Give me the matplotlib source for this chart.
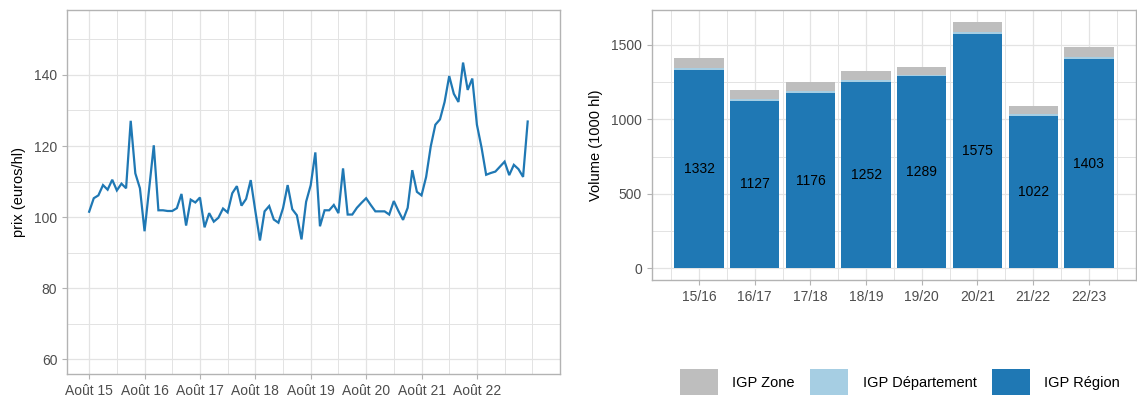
import matplotlib
matplotlib.use("Agg")
import matplotlib.pyplot as plt
import numpy as np
from matplotlib.patches import Patch

plt.rcParams['font.family'] = ['Liberation Sans', 'DejaVu Sans']

# ---- data: left chart (monthly price, Aug 2015 -> Jul 2023) ----
prix = [101.5, 105.3, 106.1, 109.0, 107.7, 110.5, 107.5, 109.4, 108.1, 127.1, 112.3, 108.1,
        96.0, 108.0, 120.2, 101.9, 101.9, 101.7, 101.7, 102.5, 106.5, 97.6, 104.9, 104.1,
        105.5, 97.1, 101.1, 98.7, 99.8, 102.4, 101.3, 106.7, 108.7, 103.2, 105.1, 110.4,
        101.7, 93.4, 101.6, 103.1, 99.3, 98.4, 102.5, 109.0, 102.2, 100.5, 93.7, 104.3,
        109.0, 118.2, 97.4, 101.9, 101.9, 103.4, 101.1, 113.7, 100.7, 100.7, 102.6, 104.0,
        105.3, 103.4, 101.6, 101.6, 101.6, 100.7, 104.5, 101.7, 99.2, 102.6, 113.2, 107.1,
        106.1, 111.3, 119.9, 126.0, 127.5, 132.4, 139.7, 134.7, 132.4, 143.5, 135.8, 139.0,
        126.0, 119.6, 111.9, 112.4, 112.8, 114.2, 115.6, 111.8, 114.7, 113.5, 111.3, 126.9]
year_labels = ["Août 15", "Août 16", "Août 17", "Août 18", "Août 19", "Août 20", "Août 21", "Août 22"]

# ---- data: right chart (volumes, 1000 hl) ----
campagnes = ["15/16", "16/17", "17/18", "18/19", "19/20", "20/21", "21/22", "22/23"]
igp_region = [1332, 1127, 1176, 1252, 1289, 1575, 1022, 1403]
igp_departement = [15, 13, 14, 13, 12, 14, 12, 17]
igp_zone = [68, 58, 61, 60, 49, 63, 58, 64]

C_LINE = "#1F78B4"
C_REG = "#1F78B4"
C_DEP = "#A6CEE3"
C_ZONE = "#BEBEBE"
GRID = "#E3E3E3"
BORDER = "#B3B3B3"
TICKC = "#4D4D4D"

fig = plt.figure(figsize=(11.37, 4.04), dpi=100)


def style(ax):
    for s in ax.spines.values():
        s.set_color(BORDER)
        s.set_linewidth(1.0)
    ax.tick_params(colors=BORDER, labelcolor=TICKC, labelsize=10, length=3.5, width=0.8)
    ax.set_axisbelow(True)


# ---------------- left chart ----------------
ax1 = fig.add_axes([67 / 1137, 1 - 374 / 404, 493 / 1137, 364 / 404])
style(ax1)
x = np.arange(len(prix))
ax1.plot(x, prix, color=C_LINE, lw=1.6, solid_joinstyle='miter')
ax1.set_xlim(-4.8, 99.7)
ax1.set_ylim(55.8, 158.3)
ax1.set_yticks([60, 80, 100, 120, 140])
ax1.set_yticks([70, 90, 110, 130, 150], minor=True)
ax1.set_xticks(np.arange(len(year_labels)) * 12)
ax1.set_xticklabels(year_labels)
ax1.set_xticks(list(np.arange(0, 97, 12) + 6) + [96], minor=True)
ax1.tick_params(which='minor', length=0)
ax1.grid(True, which='major', color=GRID, lw=0.9)
ax1.grid(True, which='minor', color=GRID, lw=0.7)
ax1.set_ylabel("prix (euros/hl)", fontsize=10.5, color="black", labelpad=6)

# ---------------- right chart ----------------
ax2 = fig.add_axes([651.7 / 1137, 1 - 280 / 404, 484.5 / 1137, 270 / 404])
style(ax2)
xb = np.arange(len(campagnes))
reg = np.array(igp_region)
dep = np.array(igp_departement)
zon = np.array(igp_zone)
w = 0.885
ax2.bar(xb, reg, width=w, color=C_REG, linewidth=0, label="IGP Région")
ax2.bar(xb, dep, width=w, bottom=reg, color=C_DEP, linewidth=0, label="IGP Département")
ax2.bar(xb, zon, width=w, bottom=reg + dep, color=C_ZONE, linewidth=0, label="IGP Zone")
for xi, v in zip(xb, reg):
    ax2.text(xi, v / 2, str(v), ha='center', va='center', fontsize=10, color="black")
ax2.set_xlim(-0.85, 7.85)
ax2.set_ylim(-78.6, 1735)
ax2.set_xticks(xb)
ax2.set_xticklabels(campagnes)
ax2.set_xticks(np.arange(-0.5, 8, 1), minor=True)
ax2.set_yticks([0, 500, 1000, 1500])
ax2.set_yticks([250, 750, 1250], minor=True)
ax2.tick_params(which='minor', length=0)
ax2.grid(True, which='major', color=GRID, lw=0.9)
ax2.grid(True, which='minor', color=GRID, lw=0.7)
ax2.set_ylabel("Volume (1000 hl)", fontsize=10.5, color="black", labelpad=6)

handles = [Patch(facecolor=C_ZONE, edgecolor='none', label="IGP Zone"),
           Patch(facecolor=C_DEP, edgecolor='none', label="IGP Département"),
           Patch(facecolor=C_REG, edgecolor='none', label="IGP Région")]
fig.legend(handles=handles, loc='upper left', bbox_to_anchor=(680 / 1137, 1 - 369 / 404),
           ncol=3, frameon=False, fontsize=10.5, handlelength=2.6, handleheight=2.4,
           handletextpad=1.0, columnspacing=1.05, borderpad=0, borderaxespad=0)

fig.savefig("out.png", dpi=100)
